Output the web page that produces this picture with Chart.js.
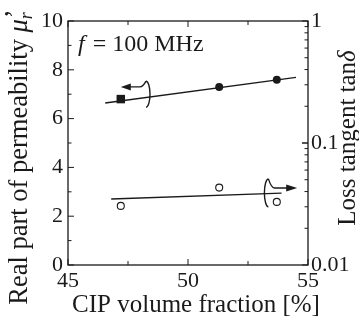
<!DOCTYPE html>
<html>
<head>
<meta charset="utf-8">
<script src="https://cdn.jsdelivr.net/npm/chart.js@4.4.1/dist/chart.umd.min.js"></script>
<style>
  html, body { margin: 0; padding: 0; background: #fff; }
  #wrap { width: 359px; height: 327px; position: relative; }
</style>
</head>
<body>
<div id="wrap"><canvas id="permChart"></canvas></div>
<script>
// measured points
var cipFraction = [47.2, 51.3, 53.7];
var murValues = [6.8, 7.29, 7.59];
var tanValues = [0.0305, 0.0431, 0.0329];

// fitted lines (end points)
var murFitX = [46.55, 54.5];
var murFitY = [6.64, 7.69];
var tanFitX = [46.8, 53.9];
var tanFitY = [0.0348, 0.0388];

var xTicks = [45, 50, 55];
var yTicks = [0, 2, 4, 6, 8, 10];
var logTicks = [0.01, 0.1, 1];

var FONT = "'Liberation Serif', 'Times New Roman', serif";
var INK = "#1a1a1a";

function pts(xs, ys) {
  return xs.map(function(x, i) { return { x: x, y: ys[i] }; });
}

var framePlugin = {
  id: "frameAndNotes",
  afterDraw: function(chart) {
    var ctx = chart.ctx;
    var a = chart.chartArea;
    var sx = chart.scales.x, sy = chart.scales.y, sr = chart.scales.y2;
    ctx.save();
    ctx.strokeStyle = INK;
    ctx.lineWidth = 1.3;
    ctx.strokeRect(a.left, a.top, a.right - a.left, a.bottom - a.top);

    ctx.lineWidth = 1;
    ctx.beginPath();
    // x ticks (bottom up, top down)
    [45, 47.5, 50, 52.5, 55].forEach(function(v) {
      var px = sx.getPixelForValue(v);
      var len = (v % 5 === 0) ? 6 : 4;
      ctx.moveTo(px, a.bottom); ctx.lineTo(px, a.bottom - len);
      ctx.moveTo(px, a.top); ctx.lineTo(px, a.top + len);
    });
    // left ticks
    for (var v = 0; v <= 10; v++) {
      var py = sy.getPixelForValue(v);
      var len = (v % 2 === 0) ? 6 : 3.5;
      ctx.moveTo(a.left, py); ctx.lineTo(a.left + len, py);
    }
    // right log ticks
    [0.01, 0.1].forEach(function(dec) {
      for (var k = 1; k <= 10; k++) {
        var py2 = sr.getPixelForValue(dec * k);
        var l2 = (k === 1 || k === 10) ? 6 : 3.5;
        ctx.moveTo(a.right, py2); ctx.lineTo(a.right - l2, py2);
      }
    });
    ctx.stroke();

    // arrows and loops marking which axis each line belongs to
    ctx.lineWidth = 1.4;
    // upper: loop around line, arrow to the left
    var ux = sx.getPixelForValue(48.25), uy = sy.getPixelForValue(7.0);
    var ay = sy.getPixelForValue(7.3);
    var tipL = sx.getPixelForValue(47.2);
    ctx.beginPath();
    ctx.ellipse(ux, uy, 4, 13, 0, -Math.PI / 2, Math.PI / 2);
    ctx.stroke();
    ctx.beginPath();
    ctx.moveTo(ux, uy - 13); ctx.quadraticCurveTo(ux - 3, ay, ux - 6, ay);
    ctx.lineTo(tipL + 8, ay);
    ctx.stroke();
    ctx.beginPath();
    ctx.moveTo(tipL, ay); ctx.lineTo(tipL + 10, ay - 3.5); ctx.lineTo(tipL + 10, ay + 3.5);
    ctx.closePath(); ctx.fillStyle = INK; ctx.fill();

    // lower: loop, arrow to the right
    var lx = sx.getPixelForValue(53.35), ly = sr.getPixelForValue(0.039);
    var by = sr.getPixelForValue(0.0428);
    var tipR = sx.getPixelForValue(54.55);
    ctx.beginPath();
    ctx.ellipse(lx, ly, 4, 14, 0, Math.PI / 2, Math.PI * 1.5);
    ctx.stroke();
    ctx.beginPath();
    ctx.moveTo(lx, ly - 14); ctx.quadraticCurveTo(lx + 3, by, lx + 6, by);
    ctx.lineTo(tipR - 8, by);
    ctx.stroke();
    ctx.beginPath();
    ctx.moveTo(tipR, by); ctx.lineTo(tipR - 11, by - 3.5); ctx.lineTo(tipR - 11, by + 3.5);
    ctx.closePath(); ctx.fill();

    // texts
    ctx.fillStyle = INK;
    ctx.textBaseline = "alphabetic";
    ctx.textAlign = "left";
    ctx.font = "italic 24px " + FONT;
    ctx.fillText("f", 78, 51);
    var fw = ctx.measureText("f").width;
    ctx.font = "24px " + FONT;
    ctx.fillText(" = 100 MHz", 78 + fw + 2, 51);

    ctx.textAlign = "center";
    ctx.font = "25px " + FONT;
    ctx.fillText("CIP volume fraction [%]", 196, 312);

    // left title, rotated
    ctx.save();
    ctx.translate(27, 154);
    ctx.rotate(-Math.PI / 2);
    ctx.textAlign = "left";
    var parts = [
      { t: "Real part of permeability ", f: "26.5px " + FONT, dy: 0 },
      { t: "\u03bc", f: "italic 26.5px " + FONT, dy: 0 },
      { t: "r", f: "italic 18px " + FONT, dy: 5 },
      { t: "\u2019", f: "26.5px " + FONT, dy: -4 }
    ];
    var total = 0;
    parts.forEach(function(p) { ctx.font = p.f; p.w = ctx.measureText(p.t).width; total += p.w; });
    var cx = -total / 2;
    parts.forEach(function(p, i) {
      ctx.font = p.f;
      var x0 = (i === 3) ? cx - 6 : cx;
      ctx.fillText(p.t, x0, p.dy);
      cx += (i === 3) ? 0 : p.w;
    });
    ctx.restore();

    // right title, rotated (reads bottom to top)
    ctx.save();
    ctx.translate(355, 138);
    ctx.rotate(-Math.PI / 2);
    ctx.textAlign = "left";
    ctx.font = "25px " + FONT;
    var t1 = "Loss tangent tan";
    var w1 = ctx.measureText(t1).width;
    ctx.font = "italic 25px " + FONT;
    var w2 = ctx.measureText("\u03b4").width;
    var sx0 = -(w1 + w2) / 2;
    ctx.font = "25px " + FONT;
    ctx.fillText(t1, sx0, 0);
    ctx.font = "italic 25px " + FONT;
    ctx.fillText("\u03b4", sx0 + w1, 0);
    ctx.restore();

    ctx.restore();
  }
};

new Chart(document.getElementById("permChart"), {
  type: "scatter",
  data: {
    datasets: [
      {
        label: "mu' measured",
        data: pts(cipFraction, murValues),
        yAxisID: "y",
        pointStyle: ["rect", "circle", "circle"],
        pointRadius: [6, 4, 4],
        backgroundColor: INK,
        borderColor: INK,
        borderWidth: 0,
        showLine: false
      },
      {
        label: "mu' fit",
        data: pts(murFitX, murFitY),
        yAxisID: "y",
        showLine: true,
        pointRadius: 0,
        borderColor: INK,
        borderWidth: 1.4
      },
      {
        label: "tan delta measured",
        data: pts(cipFraction, tanValues),
        yAxisID: "y2",
        pointStyle: "circle",
        pointRadius: 3.5,
        backgroundColor: "#fff",
        borderColor: INK,
        borderWidth: 1.1,
        showLine: false
      },
      {
        label: "tan delta fit",
        data: pts(tanFitX, tanFitY),
        yAxisID: "y2",
        showLine: true,
        pointRadius: 0,
        borderColor: INK,
        borderWidth: 1.4
      }
    ]
  },
  options: {
    responsive: true,
    maintainAspectRatio: false,
    animation: false,
    layout: { padding: { top: 21, left: 0, right: 0, bottom: 0 } },
    plugins: { legend: { display: false }, tooltip: { enabled: false } },
    scales: {
      x: {
        type: "linear",
        position: "bottom",
        min: 45, max: 55,
        afterBuildTicks: function(s) { s.ticks = xTicks.map(function(v) { return { value: v }; }); },
        ticks: { color: INK, font: { family: FONT, size: 22 }, padding: 3, maxRotation: 0 },
        grid: { display: false, drawTicks: false },
        border: { display: false },
        afterFit: function(s) { s.height = 62; }
      },
      y: {
        type: "linear",
        position: "left",
        min: 0, max: 10,
        afterBuildTicks: function(s) { s.ticks = yTicks.map(function(v) { return { value: v }; }); },
        ticks: { color: INK, font: { family: FONT, size: 22 }, padding: 5 },
        grid: { display: false, drawTicks: false },
        border: { display: false },
        afterFit: function(s) { s.width = 68; }
      },
      y2: {
        type: "logarithmic",
        position: "right",
        min: 0.01, max: 1,
        afterBuildTicks: function(s) { s.ticks = logTicks.map(function(v) { return { value: v }; }); },
        ticks: {
          color: INK, font: { family: FONT, size: 22 }, padding: 3,
          callback: function(v) { return String(v); }
        },
        grid: { display: false, drawTicks: false },
        border: { display: false },
        afterFit: function(s) { s.width = 51; }
      }
    }
  },
  plugins: [framePlugin]
});
</script>
</body>
</html>
